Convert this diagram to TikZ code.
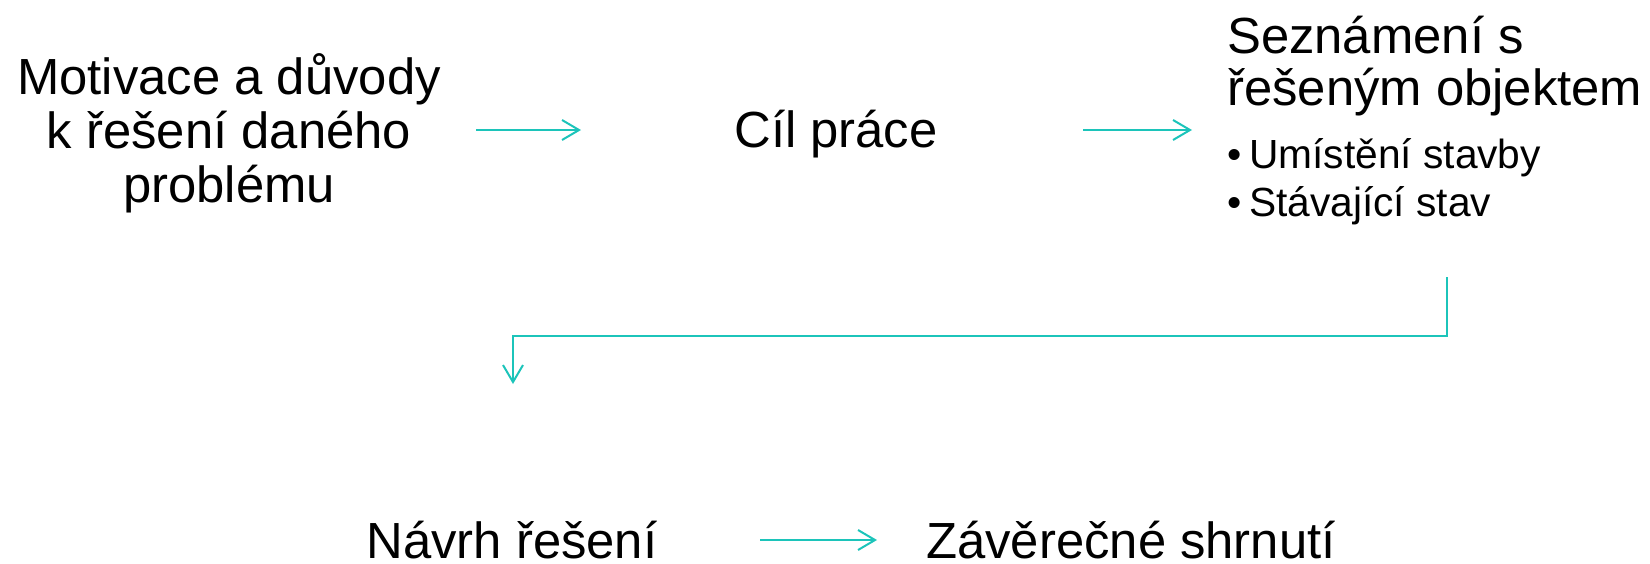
\documentclass[tikz,border=0pt]{standalone}
\usepackage{fontspec}
\setmainfont{Liberation Sans}
\usetikzlibrary{arrows.meta}
\definecolor{tealline}{RGB}{28,196,186}
\begin{document}
\begin{tikzpicture}[x=1pt,y=-1pt,
  lbl/.style={inner sep=0pt, text depth=0pt, font=\fontsize{50.8}{54}\selectfont},
  arr/.style={draw=tealline, line width=2pt, -{Straight Barb[length=17pt,width=20pt]}}]
\useasboundingbox (0,0) rectangle (1650,563);
\node[lbl, anchor=base] (mot) at (229,94)
  {\parbox[t]{480pt}{\centering Motivace a důvody\\ k řešení daného\\ problému}};
\node[lbl, anchor=base] (cil) at (836,147) {Cíl práce};
\node[lbl, anchor=base west] (sez) at (1227,53)
  {\parbox[t]{420pt}{\raggedright\fontsize{50.8}{52}\selectfont Seznámení s\\ řešeným objektem\par
   \fontsize{40.7}{48}\selectfont\vspace{15pt}\makebox[22pt][l]{•}Umístění stavby\\
   \makebox[22pt][l]{•}Stávající stav}};
\node[lbl, anchor=base] (nav) at (512,558) {Návrh řešení};
\node[lbl, anchor=base] (zav) at (1131,558) {Závěrečné shrnutí};
\coordinate (a1s) at (476,130);
\coordinate (a1e) at (581,130);
\coordinate (a2s) at (1083,130);
\coordinate (a2e) at (1192,130);
\coordinate (es) at (1447,277);
\coordinate (ee) at (513,384);
\coordinate (a3s) at (760,540);
\coordinate (a3e) at (877,540);
\draw[arr] (a1s) -- (a1e);
\draw[arr] (a2s) -- (a2e);
\draw[arr] (es) -- ++(0,59) -| (ee);
\draw[arr] (a3s) -- (a3e);
\end{tikzpicture}
\end{document}
